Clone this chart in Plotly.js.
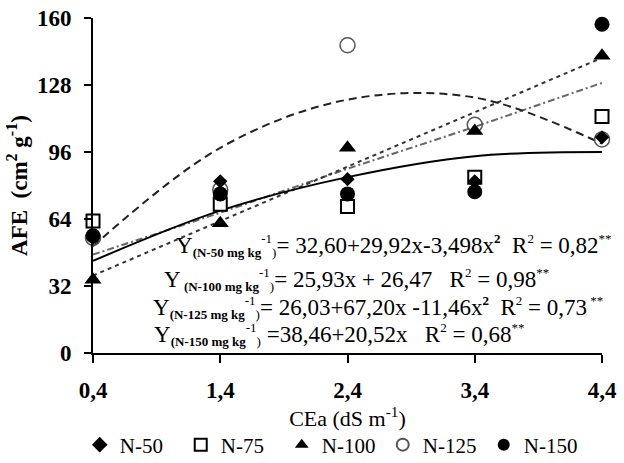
<!DOCTYPE html>
<html>
<head>
<meta charset="utf-8">
<script src="https://cdn.plot.ly/plotly-3.0.1.min.js"></script>
<style>html,body{margin:0;padding:0;background:#fff;}#chart{width:624px;height:463px;}</style>
</head>
<body>
<div id="chart"></div>
<script>
// CEa levels (dS m-1)
const cea = [0.4, 1.4, 2.4, 3.4, 4.4];
const ceaLabels = ['0,4', '1,4', '2,4', '3,4', '4,4'];
const yTicks = [0, 32, 64, 96, 128, 160];

// Observed AFE (cm2 g-1)
const n50  = [55, 82, 83, 82, 103];
const n75  = [63, 71, 70, 84, 113];
const n100 = [35, 62, 98, 106, 142];
const n125 = [55, 78, 147, 109, 102];
const n150 = [56, 76, 76, 77, 157];

// Fitted curves at each CEa level
const fit50  = [44, 68, 84, 94, 96];
const fit100 = [37, 63, 89, 115, 141];
const fit125 = [51, 98, 121, 122, 100];
const fit150 = [47, 67, 88, 108, 129];

const serif = 'Liberation Serif, Times New Roman, serif';

function fitTrace(y, color, dash, width, shape) {
  return {x: cea, y: y, mode: 'lines', showlegend: false, hoverinfo: 'skip',
    line: {color: color, dash: dash, width: width, shape: shape, smoothing: 1}};
}
function ptTrace(y, name, symbol, size, color, lineColor, lineW, rank) {
  return {x: cea, y: y, mode: 'markers', name: name, legendrank: rank, cliponaxis: false,
    marker: {symbol: symbol, size: size, color: color, line: {color: lineColor, width: lineW}}};
}

const traces = [
  fitTrace(fit150, '#666', '7px,3px,2px,3px', 2, 'linear'),
  fitTrace(fit100, '#333', '4px,4px', 2, 'linear'),
  fitTrace(fit125, '#222', '8px,5px', 2, 'spline'),
  fitTrace(fit50, '#000', 'solid', 2, 'spline'),
  ptTrace(n125, 'N-125', 'circle-open', 15, '#555', '#555', 1.5, 4),
  ptTrace(n75, 'N-75', 'square', 13, '#fff', '#000', 2, 2),
  ptTrace(n150, 'N-150', 'circle', 15, '#000', '#000', 0, 5),
  ptTrace(n100, 'N-100', 'triangle-up', 15, '#000', '#000', 0, 3),
  ptTrace(n50, 'N-50', 'diamond', 11, '#000', '#000', 0, 1)
];

const nb = '\u00a0';
function sm(s) { return '<span style="font-size:13px;color:#000">' + s + '</span>'; }
function lab(n) {
  return 'Y<sub><b>' + sm('(N-' + n + ' mg kg') + '</b></sub><sup>' + sm('-1') + '</sup><sub>' + sm(')') + '</sub>';
}
const eqs = [
  {t: lab('50') + '= 32,60+29,92x-3,498x<sup><b>' + sm('2') + '</b></sup>' + nb + nb + 'R<sup>' + sm('2') + '</sup> = 0,82<sup>' + sm('**') + '</sup>', x: 174, y: 246},
  {t: 'Y<sub><b>' + sm(' (N-100 mg kg') + '</b></sub><sup>' + sm('-1') + '</sup><sub>' + sm(')') + '</sub>= 25,93x + 26,47' + nb + nb + nb + 'R<sup>' + sm('2') + '</sup> = 0,98<sup>' + sm('**') + '</sup>', x: 162, y: 279},
  {t: lab('125') + '= 26,03+67,20x -11,46x<sup><b>' + sm('2') + '</b></sup>' + nb + nb + 'R<sup>' + sm('2') + '</sup> = 0,73<sup>' + sm(' **') + '</sup>', x: 151, y: 307},
  {t: lab('150') + ' =38,46+20,52x' + nb + nb + nb + 'R<sup>' + sm('2') + '</sup> = 0,68<sup>' + sm('**') + '</sup>', x: 152, y: 334}
];
const annotations = eqs.map(e => ({
  text: e.t, xref: 'paper', yref: 'paper',
  x: (e.x - 93) / 509, y: (353 - e.y) / 335, xanchor: 'left', yanchor: 'middle',
  showarrow: false, font: {family: serif, size: 23, color: '#000'}
}));

const layout = {
  width: 624, height: 463,
  margin: {l: 93, r: 22, t: 18, b: 110, autoexpand: false},
  paper_bgcolor: '#fff', plot_bgcolor: '#fff',
  font: {family: serif, color: '#000'},
  xaxis: {
    range: [0.4, 4.4], tickvals: cea, ticktext: ceaLabels,
    showline: true, linecolor: '#000', linewidth: 2,
    ticks: 'outside', ticklen: 8, tickwidth: 2, tickcolor: '#000',
    showgrid: false, zeroline: false, automargin: false,
    ticklabelstandoff: 7,
    tickfont: {family: serif, size: 23, color: '#000', weight: 'bold'},
    title: {text: 'CEa (dS m<sup>-1</sup>)', standoff: 1, font: {family: serif, size: 22, color: '#000'}}
  },
  yaxis: {
    range: [0, 160], tickvals: yTicks,
    showline: true, linecolor: '#000', linewidth: 2,
    ticks: 'outside', ticklen: 7, tickwidth: 2, tickcolor: '#000',
    showgrid: false, zeroline: false, automargin: false,
    ticklabelstandoff: 8,
    tickfont: {family: serif, size: 23, color: '#000', weight: 'bold'},
    title: {text: 'AFE  (cm<sup>2</sup> g<sup>-1</sup>)', standoff: 3, font: {family: serif, size: 23, color: '#000', weight: 'bold'}}
  },
  legend: {
    orientation: 'h', x: 0.47, xanchor: 'center', y: -0.2746, yanchor: 'middle',
    font: {family: serif, size: 21, color: '#000'}, itemsizing: 'constant',
    entrywidth: 56, bgcolor: 'rgba(0,0,0,0)'
  },
  showlegend: true,
  annotations: annotations
};

Plotly.newPlot('chart', traces, layout, {displayModeBar: false, staticPlot: true});
</script>
</body>
</html>
